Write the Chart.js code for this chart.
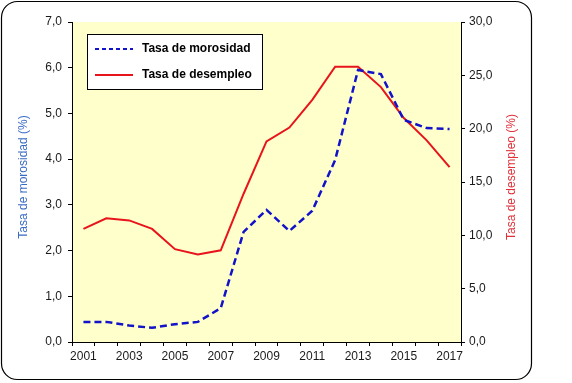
<!DOCTYPE html>
<html>
<head>
<meta charset="utf-8">
<style>
  html, body { margin: 0; padding: 0; background: #fff; }
  canvas { display: block; }
</style>
<script src="https://cdn.jsdelivr.net/npm/chart.js@4.4.0/dist/chart.umd.min.js"></script>
</head>
<body>
<canvas id="grafico" width="572" height="383"></canvas>
<script>
// Datos (serie anual)
const years = ['2001', '2002', '2003', '2004', '2005', '2006', '2007', '2008', '2009',
               '2010', '2011', '2012', '2013', '2014', '2015', '2016', '2017'];
const morosidad = [0.44, 0.44, 0.36, 0.31, 0.39, 0.44, 0.74, 2.41, 2.89,
                   2.43, 2.87, 3.98, 5.95, 5.86, 4.86, 4.68, 4.66];
const desempleo = [10.6, 11.6, 11.4, 10.6, 8.7, 8.2, 8.6, 13.9, 18.8,
                   20.1, 22.7, 25.8, 25.8, 23.9, 21.0, 18.9, 16.4];

const leftTitle = 'Tasa de morosidad (%)';
const rightTitle = 'Tasa de desempleo (%)';

const FONT = '"Liberation Sans", Arial, sans-serif';
const tickColor = '#1a1a1a';

// coma decimal
const fmt = v => v.toFixed(1).replace('.', ',');

const marco = {
    id: 'marco',
    beforeDraw(chart) {
        const { ctx, chartArea: a } = chart;
        ctx.save();
        ctx.fillStyle = '#fff';
        ctx.fillRect(0, 0, chart.width, chart.height);
        // fondo amarillo del área de trazado
        ctx.fillStyle = '#ffffcc';
        ctx.fillRect(a.left, a.top, a.right - a.left, a.bottom - a.top);
        // borde redondeado del gráfico
        const x = 1.5, y = 1.5, w = 530, h = 378, r = 16;
        ctx.beginPath();
        ctx.moveTo(x + r, y);
        ctx.arcTo(x + w, y, x + w, y + h, r);
        ctx.arcTo(x + w, y + h, x, y + h, r);
        ctx.arcTo(x, y + h, x, y, r);
        ctx.arcTo(x, y, x + w, y, r);
        ctx.closePath();
        ctx.strokeStyle = '#000';
        ctx.lineWidth = 1.2;
        ctx.stroke();
        ctx.restore();
    },
    afterDraw(chart) {
        const { ctx, chartArea: a } = chart;
        const midY = (a.top + a.bottom) / 2 - 5;
        ctx.save();
        ctx.font = '12px ' + FONT;
        ctx.textAlign = 'center';
        ctx.textBaseline = 'middle';
        // títulos de los ejes, ambos de abajo hacia arriba
        ctx.fillStyle = '#3a6bc4';
        ctx.translate(24, midY);
        ctx.rotate(-Math.PI / 2);
        ctx.fillText(leftTitle, 0, 0);
        ctx.setTransform(1, 0, 0, 1, 0, 0);
        ctx.fillStyle = '#e0303a';
        ctx.translate(512, midY);
        ctx.rotate(-Math.PI / 2);
        ctx.fillText(rightTitle, 0, 0);
        ctx.setTransform(1, 0, 0, 1, 0, 0);

        // leyenda dentro del área de trazado
        ctx.fillStyle = '#fff';
        ctx.fillRect(87.5, 34.5, 175, 55);
        ctx.strokeStyle = '#000';
        ctx.lineWidth = 1;
        ctx.strokeRect(87.5, 34.5, 175, 55);
        chart.data.datasets.forEach((ds, i) => {
            const ly = 49 + i * 26;
            ctx.beginPath();
            ctx.setLineDash(ds.borderDash ? [4, 3] : []);
            ctx.strokeStyle = ds.borderColor;
            ctx.lineWidth = 2.2;
            ctx.moveTo(95, ly);
            ctx.lineTo(133, ly);
            ctx.stroke();
            ctx.setLineDash([]);
            ctx.fillStyle = '#000';
            ctx.font = 'bold 12px ' + FONT;
            ctx.textAlign = 'left';
            ctx.fillText(ds.label, 142, ly);
        });
        ctx.restore();
    }
};

new Chart(document.getElementById('grafico').getContext('2d'), {
    type: 'line',
    data: {
        labels: years,
        datasets: [
            {
                label: 'Tasa de morosidad',
                data: morosidad,
                yAxisID: 'y',
                borderColor: '#1212c8',
                borderWidth: 2.5,
                borderDash: [7, 4],
                pointRadius: 0,
                tension: 0,
                fill: false
            },
            {
                label: 'Tasa de desempleo',
                data: desempleo,
                yAxisID: 'y1',
                borderColor: '#e8141b',
                borderWidth: 2,
                pointRadius: 0,
                tension: 0,
                fill: false
            }
        ]
    },
    options: {
        responsive: false,
        animation: false,
        layout: { padding: { top: 22, left: 0, right: 0, bottom: 0 } },
        plugins: {
            legend: { display: false },
            tooltip: { enabled: false }
        },
        scales: {
            x: {
                type: 'category',
                offset: true,
                afterFit: s => { s.height = 41; },
                grid: { offset: true, drawOnChartArea: false, tickLength: 4, color: '#000' },
                border: { color: '#000', width: 1 },
                ticks: {
                    autoSkip: false,
                    maxRotation: 0,
                    padding: 3,
                    color: tickColor,
                    font: { family: FONT, size: 12 },
                    callback: (v, i) => (i % 2 === 0 ? years[i] : '')
                }
            },
            y: {
                position: 'left',
                min: 0,
                max: 7,
                afterFit: s => { s.width = 72; },
                grid: { drawOnChartArea: false, tickLength: 4, color: '#000' },
                border: { color: '#000', width: 1 },
                ticks: {
                    stepSize: 1,
                    padding: 6,
                    color: tickColor,
                    font: { family: FONT, size: 12 },
                    callback: v => fmt(v)
                }
            },
            y1: {
                position: 'right',
                min: 0,
                max: 30,
                afterFit: s => { s.width = 111; },
                grid: { drawOnChartArea: false, tickLength: 4, color: '#000' },
                border: { color: '#000', width: 1, dash: [2, 2] },
                ticks: {
                    stepSize: 5,
                    padding: 4,
                    color: tickColor,
                    font: { family: FONT, size: 12 },
                    callback: v => fmt(v)
                }
            }
        }
    },
    plugins: [marco]
});
</script>
</body>
</html>
